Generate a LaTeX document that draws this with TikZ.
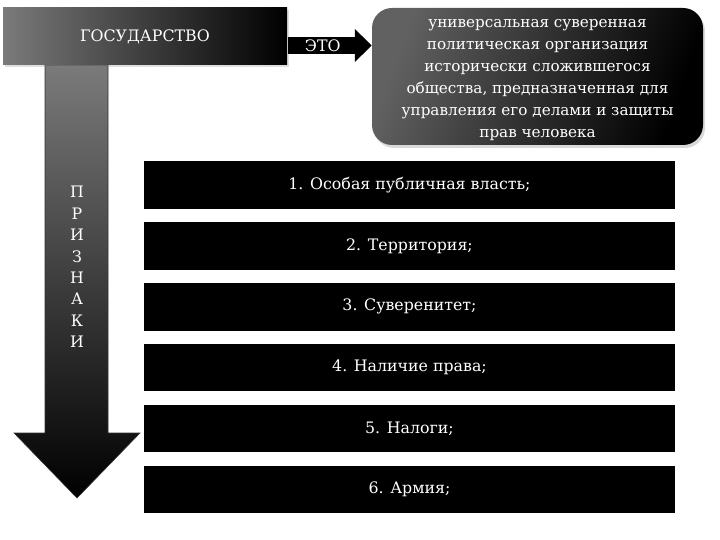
\documentclass[tikz,border=0pt]{standalone}
\usepackage{fontspec}
\setmainfont{DejaVu Serif}
\usetikzlibrary{positioning, shadows, arrows.meta}

\tikzset{
	label font/.style={font=\fontsize{15.8}{19}\selectfont},
	headbox/.style={left color=black!52, right color=black, text=white, minimum width=284pt, minimum height=57pt, inner sep=0pt, label font, drop shadow={opacity=0.25, shadow xshift=2pt, shadow yshift=-2pt}},
	defbox/.style={rounded corners=20pt, left color=black!62, right color=black, shading angle=70, minimum width=331pt, minimum height=137pt, inner sep=0pt, drop shadow={opacity=0.3, shadow xshift=2pt, shadow yshift=-3pt}},
	deftext/.style={text=white, align=center, inner sep=0pt, font=\fontsize{15.2}{22}\selectfont},
	bar/.style={fill=black, text=white, minimum width=531pt, minimum height=47.5pt, inner sep=0pt, label font},
}

\begin{document}
\begin{tikzpicture}[x=1pt, y=-1pt, node distance=13pt]
	\useasboundingbox (0,0) rectangle (720,540);

	% big arrow of the features
	\shade[top color=black!52, bottom color=black, draw=black!80, line width=0.6pt] (45,65) -- (108,65) -- (108,433) -- (140,433) -- (77,498) -- (14,433) -- (45,433) -- cycle;
	\node [align=center, text=white, font=\fontsize{15.8}{21.4}\selectfont] (signs) at (77,267) {П\\Р\\И\\З\\Н\\А\\К\\И};

	\node [headbox] (state) at (145,36.5) {ГОСУДАРСТВО};
	\node [defbox]  (def)   at (537.5,76.5) {};
	\node [deftext] (deftxt) at ([yshift=-4pt]def.center) {универсальная суверенная\\политическая организация\\исторически сложившегося\\общества, предназначенная для\\управления его делами и защиты\\прав человека};

	\path[draw, line width=17pt, shorten <=1pt, -{Triangle[width=32pt, length=17pt]}] ([yshift=-9pt]state.east) -- ([yshift=-9pt]state.east -| def.west) node[pos=0.42, text=white, label font] {ЭТО};

	\node [bar] (one)   at (409.5,185)    {1. Особая публичная власть;};
	\node [bar] (two)   [below=of one]    {2. Территория;};
	\node [bar] (three) [below=of two]    {3. Суверенитет;};
	\node [bar] (four)  [below=of three]  {4. Наличие права;};
	\node [bar] (five)  [below=of four]   {5. Налоги;};
	\node [bar] (six)   [below=of five]   {6. Армия;};
\end{tikzpicture}
\end{document}
